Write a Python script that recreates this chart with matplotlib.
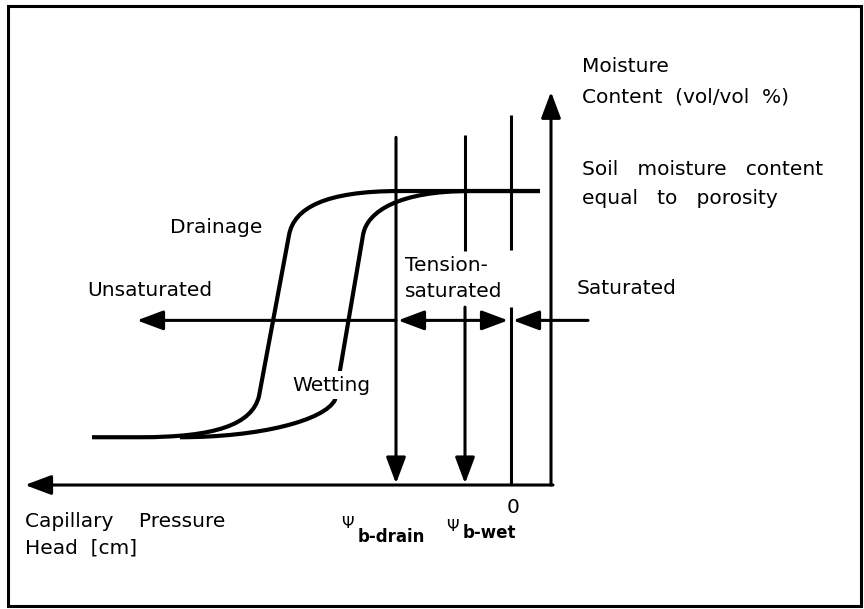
import matplotlib
matplotlib.use('Agg')
import matplotlib.pyplot as plt
from matplotlib.patches import FancyArrowPatch, ArrowStyle, PathPatch, Rectangle
from matplotlib.path import Path

# Moisture content levels (vol/vol %)
theta_r = 6.5      # residual moisture content
theta_s = 40.0     # porosity (saturated moisture content)

# Capillary pressure head positions (cm, schematic)
psi_drain = -11.5
psi_wet = -4.6
psi_zero = 0.0
axis_x = 4.0
axis_left = -48.6
axis_top = 53.5
band_y = 22.4          # level of the zone arrows
unsat_end = -37.4
sat_start = 7.7

# Drainage curve: start, bezier controls and end points
drain_x = [-41.9, -37.1, -29.6, -25.9, -25.2, -22.2, -21.7, -18.6, -11.1, 2.9]
drain_y = [theta_r, theta_r, theta_r, 8.2, 12.1, 34.0, 37.7, theta_s, theta_s, theta_s]
drain_codes = [Path.MOVETO, Path.LINETO, Path.CURVE4, Path.CURVE4, Path.CURVE4,
               Path.LINETO, Path.CURVE4, Path.CURVE4, Path.CURVE4, Path.LINETO]

# Wetting curve
wet_x = [-33.1, -25.1, -18.6, -17.6, -14.8, -14.4, -11.1, -4.1, 2.9]
wet_y = [theta_r, theta_r, 8.8, 11.6, 34.0, 37.3, theta_s, theta_s, theta_s]
wet_codes = [Path.MOVETO, Path.CURVE4, Path.CURVE4, Path.CURVE4,
             Path.LINETO, Path.CURVE4, Path.CURVE4, Path.CURVE4, Path.LINETO]

fig = plt.figure(figsize=(8.64, 6.09), dpi=100)
ax = fig.add_axes([0, 0, 1, 1])
ax.set_xlim(-51.1, 35.3)
ax.set_ylim(-16.87, 65.99)
ax.axis('off')

# outer frame
ax.add_patch(Rectangle((0.009, 0.005), 0.988, 0.985, transform=ax.transAxes,
                       fill=False, lw=2.2, edgecolor='black'))

LW = 2.2
head = ArrowStyle('-|>', head_length=16, head_width=6)
dhead = ArrowStyle('<|-|>', head_length=16, head_width=6)


def arrow(p0, p1, style=head):
    ax.add_patch(FancyArrowPatch(p0, p1, arrowstyle=style, mutation_scale=1,
                                 shrinkA=0, shrinkB=0, lw=LW, color='black'))


# axes
arrow((axis_x + 0.2, 0), (axis_left, 0))
arrow((axis_x, 0), (axis_x, axis_top))

# zone arrows
arrow((psi_drain, band_y), (unsat_end, band_y))
arrow((psi_drain + 0.2, band_y), (psi_zero - 0.3, band_y), dhead)
arrow((sat_start, band_y), (psi_zero + 0.2, band_y))

# vertical lines
arrow((psi_drain, 47.3), (psi_drain, 0.2))
ax.plot([psi_wet, psi_wet], [47.6, 31.8], color='black', lw=LW, solid_capstyle='butt')
arrow((psi_wet, 24.2), (psi_wet, 0.2))
ax.plot([psi_zero, psi_zero], [50.3, 32.0], color='black', lw=LW, solid_capstyle='butt')
ax.plot([psi_zero, psi_zero], [24.2, 0], color='black', lw=LW, solid_capstyle='butt')

# hysteresis curves
ax.add_patch(PathPatch(Path(list(zip(drain_x, drain_y)), drain_codes),
                       fill=False, lw=3, edgecolor='black', capstyle='butt'))
ax.add_patch(PathPatch(Path(list(zip(wet_x, wet_y)), wet_codes),
                       fill=False, lw=3, edgecolor='black', capstyle='butt'))

fs = 14.5
txt = dict(fontsize=fs, ha='left', va='center', color='black')
ax.text(7.1, 56.9, 'Moisture', **txt)
ax.text(7.1, 52.8, 'Content  (vol/vol  %)', **txt)
ax.text(7.1, 42.9, 'Soil   moisture   content', **txt)
ax.text(7.1, 39.0, 'equal   to   porosity', **txt)
ax.text(-34.1, 35.1, 'Drainage', **txt)
ax.text(-21.9, 13.6, 'Wetting', zorder=5,
        bbox=dict(facecolor='white', edgecolor='none', pad=3), **txt)
ax.text(-42.4, 26.5, 'Unsaturated', **txt)
ax.text(6.6, 26.8, 'Saturated', **txt)
ax.text(-10.6, 29.9, 'Tension-', **txt)
ax.text(-10.6, 26.3, 'saturated', **txt)
ax.text(-48.6, -4.9, 'Capillary    Pressure', **txt)
ax.text(-48.6, -8.6, 'Head  [cm]', **txt)

# pressure head labels
ax.text(-17.0, -5.2, '\u03a8', fontsize=11.5, ha='left', va='center')
ax.text(-15.3, -7.1, 'b-drain', fontsize=12, fontweight='bold', ha='left', va='center')
ax.text(-6.5, -5.7, '\u03a8', fontsize=11.5, ha='left', va='center')
ax.text(-4.8, -6.5, 'b-wet', fontsize=12, fontweight='bold', ha='left', va='center')
ax.text(0.2, -3.0, '0', fontsize=fs, ha='center', va='center')

plt.savefig('out.png', dpi=100)
